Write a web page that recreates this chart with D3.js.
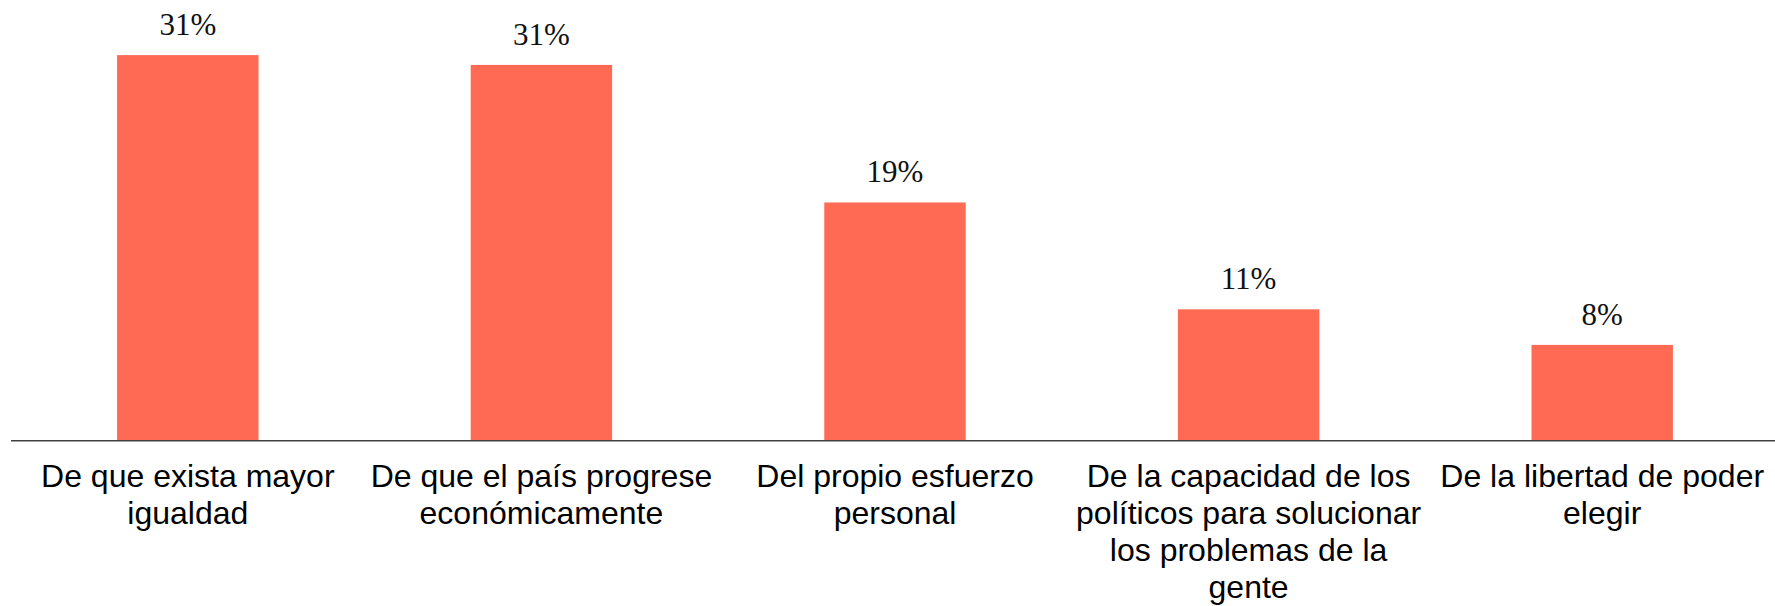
<!DOCTYPE html>
<html lang="es">
<head>
  <meta charset="utf-8">
  <title>Chart</title>
  <style>
    body {
      margin: 0;
      background: #ffffff;
    }
    .cat text {
      font-family: "Liberation Sans", Arial, sans-serif;
      font-size: 32px;
      fill: #000;
    }
    .val {
      font-family: "Palatino Linotype", "Book Antiqua", Palatino, "Liberation Serif", serif;
      font-size: 31px;
      fill: #111;
    }
  </style>
</head>
<body>
  <svg id="chart"></svg>
  <script src="https://cdnjs.cloudflare.com/ajax/libs/d3/7.8.5/d3.min.js"></script>
  <script>
    // data
    var categories = [
      'De que exista mayor igualdad',
      'De que el país progrese económicamente',
      'Del propio esfuerzo personal',
      'De la capacidad de los políticos para solucionar los problemas de la gente',
      'De la libertad de poder elegir'
    ]
    var values = [31.4, 30.6, 19.4, 10.7, 7.8]
    var valueLabels = ['31%', '31%', '19%', '11%', '8%']

    // config
    var width = 1775
    var height = 606
    var barColor = '#ff6a55'
    var axisColor = '#404040'

    var svg = d3.select('#chart')
      .attr('width', width)
      .attr('height', height)

    var x = d3.scaleBand()
      .domain(categories)
      .range([11, 1779])
      .paddingInner(0.6)
      .paddingOuter(0.3)

    var y = d3.scaleLinear()
      .domain([0, 35])
      .range([440.7, 10.9])

    // bars
    svg.selectAll('rect.bar')
      .data(values)
      .enter().append('rect')
      .attr('class', 'bar')
      .attr('x', function(d, i) { return x(categories[i]) })
      .attr('y', function(d) { return y(d) })
      .attr('width', x.bandwidth())
      .attr('height', function(d) { return y(0) - y(d) })
      .attr('fill', barColor)

    // value labels
    svg.selectAll('text.val')
      .data(values)
      .enter().append('text')
      .attr('class', 'val')
      .attr('x', function(d, i) { return x(categories[i]) + x.bandwidth() / 2 })
      .attr('y', function(d) { return y(d) - 20 })
      .attr('text-anchor', 'middle')
      .text(function(d, i) { return valueLabels[i] })

    // category axis
    var axis = svg.append('g')
      .attr('class', 'cat')
      .attr('transform', 'translate(0,' + y(0) + ')')
      .call(d3.axisBottom(x).tickSize(0).tickSizeOuter(0).tickPadding(0))

    axis.select('.domain')
      .attr('d', 'M11,0H' + width)
      .attr('stroke', axisColor)
      .attr('stroke-width', 1.5)

    axis.selectAll('.tick text')
      .attr('font-size', null)
      .attr('font-family', null)
      .attr('fill', null)
      .call(wrap, x.step())

    function wrap(sel, maxW) {
      sel.each(function() {
        var t = d3.select(this)
        var words = t.text().split(/\s+/)
        var lines = []
        var line = []
        t.text(null)
        var probe = t.append('tspan')
        words.forEach(function(w) {
          line.push(w)
          probe.text(line.join(' '))
          if (probe.node().getComputedTextLength() > maxW && line.length > 1) {
            line.pop()
            lines.push(line.join(' '))
            line = [w]
          }
        })
        lines.push(line.join(' '))
        probe.remove()
        t.attr('dy', null).attr('y', 0)
        lines.forEach(function(l, i) {
          t.append('tspan')
            .attr('x', 0)
            .attr('y', 46 + i * 37)
            .text(l)
        })
      })
    }
  </script>
</body>
</html>
